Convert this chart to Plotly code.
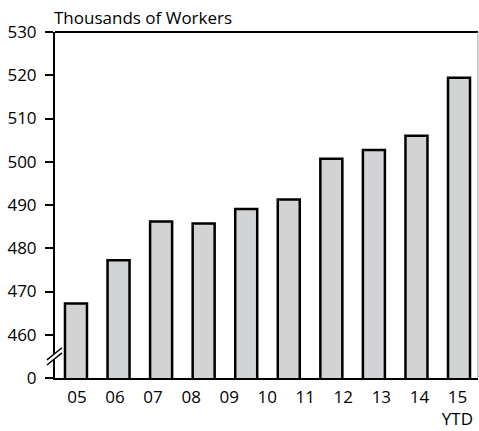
import plotly.graph_objects as go

year_labels = ["05", "06", "07", "08", "09", "10", "11", "12", "13", "14", "15<br>YTD"]
bar_values = [467.2, 477.2, 486.2, 485.7, 489.1, 491.3, 500.7, 502.7, 506.0, 519.4]
y_tick_vals = [450, 460, 470, 480, 490, 500, 510, 520, 530]
y_tick_text = ["0", "460", "470", "480", "490", "500", "510", "520", "530"]
title_text = "Thousands of Workers"

FONT = "Open Sans"
FS = 17
fig = go.Figure()
fig.add_trace(go.Bar(
    x=list(range(len(bar_values))), y=bar_values, width=0.517,
    marker=dict(color="#d2d3d5", line=dict(color="black", width=2.5)),
    xaxis="x", yaxis="y", showlegend=False, hoverinfo="skip"))
fig.add_trace(go.Scatter(
    x=year_labels, y=[None] * len(year_labels), mode="markers",
    xaxis="x2", yaxis="y", showlegend=False, hoverinfo="skip"))

fig.update_layout(
    width=479, height=431,
    margin=dict(l=55, r=1, t=32, b=53),
    paper_bgcolor="white", plot_bgcolor="white",
    font=dict(family=FONT, size=FS, color="black"),
    xaxis=dict(range=[-0.493, 9.446], showticklabels=False, ticks="",
               showgrid=False, zeroline=False, showline=True,
               linecolor="black", linewidth=2),
    xaxis2=dict(type="category", overlaying="x", side="bottom",
                range=[-0.578, 10.54], showgrid=False, zeroline=False,
                showline=False, ticks="", ticklabelstandoff=7,
                tickfont=dict(family=FONT, size=FS, color="black")),
    yaxis=dict(range=[450, 530], tickvals=y_tick_vals, ticktext=y_tick_text,
               ticks="outside", ticklen=8, tickwidth=2, tickcolor="black",
               showgrid=False, zeroline=False, showline=True,
               linecolor="black", linewidth=2, ticklabelstandoff=5,
               tickfont=dict(family=FONT, size=FS, color="black")),
    shapes=[
        dict(type="line", xref="paper", yref="paper", x0=0, x1=1, y0=1, y1=1,
             line=dict(color="black", width=2)),
        dict(type="line", xref="paper", yref="paper", x0=1, x1=1, y0=0, y1=1,
             line=dict(color="#a0a0a0", width=1)),
        dict(type="line", xref="paper", yref="y", x0=-0.019, x1=0.0165,
             y0=453.6, y1=456.4, line=dict(color="white", width=4)),
        dict(type="line", xref="paper", yref="y", x0=-0.019, x1=0.0165,
             y0=453.0, y1=455.8, line=dict(color="black", width=1.5)),
        dict(type="line", xref="paper", yref="y", x0=-0.019, x1=0.0165,
             y0=454.2, y1=457.0, line=dict(color="black", width=1.5)),
    ],
    annotations=[dict(text=title_text, xref="paper", yref="paper", x=-0.007, y=1,
                      xanchor="left", yanchor="bottom", showarrow=False, yshift=1,
                      font=dict(family=FONT, size=FS, color="black"))],
)
fig.write_html("out.html", config={"displayModeBar": False},
               post_script="document.body.style.margin='0';")
